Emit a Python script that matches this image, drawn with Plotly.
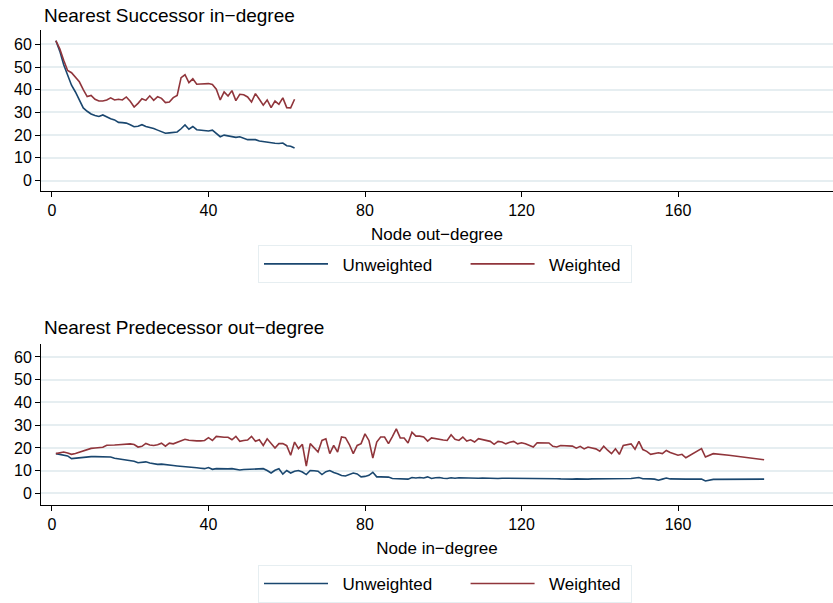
import plotly.graph_objects as go

# ---------------- data ----------------
succ_x = list(range(1, 63))
succ_unweighted = [
    61.6, 57.0, 51.0, 46.0, 42.0, 39.0, 35.5, 32.0, 30.5, 29.3,
    28.6, 28.2, 28.9, 28.0, 27.2, 26.7, 25.6, 25.5, 25.3, 24.6,
    23.7, 23.9, 24.6, 23.8, 23.5, 22.9, 22.2, 21.5, 20.8, 21.0,
    21.2, 21.4, 22.8, 24.5, 22.6, 23.8, 22.4, 22.3, 22.0, 21.8,
    22.2, 20.8, 19.3, 20.0, 19.7, 19.1, 19.0, 19.3, 18.5, 18.0,
    18.1, 18.0, 17.4, 17.1, 16.9, 16.6, 16.4, 16.3, 16.5, 15.3,
    15.1, 14.3]
succ_weighted = [
    61.6, 58.0, 53.0, 48.5, 47.5, 45.5, 43.5, 40.0, 37.0, 37.5,
    35.8, 35.0, 35.0, 35.5, 36.4, 35.5, 35.8, 35.5, 36.8, 34.9,
    32.4, 34.0, 36.0, 35.3, 37.3, 35.3, 36.9, 36.2, 34.3, 34.6,
    36.5, 37.5, 45.3, 46.6, 43.1, 44.8, 42.4, 42.5, 42.6, 42.7,
    42.3, 40.2, 35.5, 39.0, 37.2, 39.6, 35.2, 38.0, 37.8, 36.8,
    34.6, 38.3, 35.8, 33.2, 35.5, 32.1, 35.0, 33.6, 36.4, 32.1,
    32.0, 35.8]

pred_x = list(range(1, 163)) + [166, 167, 169, 173, 182]
pred_unweighted = [
    17.5, 17.2, 16.9, 16.5, 15.3, 15.5, 15.9, 16.0, 16.1, 16.2,
    16.2, 16.1, 16.1, 16.1, 16.0, 15.5, 15.2, 14.8, 14.5, 14.4,
    14.2, 13.5, 13.8, 13.9, 13.4, 13.1, 12.8, 12.9, 12.6, 12.5,
    12.3, 12.1, 12.0, 11.8, 11.6, 11.4, 11.3, 11.1, 10.9, 11.4,
    10.6, 10.9, 10.8, 10.6, 10.8, 10.9, 10.7, 10.3, 10.5, 10.6,
    10.5, 10.7, 10.6, 10.9, 10.1, 9.0, 10.2, 10.9, 8.5, 10.1,
    9.0, 9.8, 10.1, 9.4, 8.3, 10.1, 10.0, 9.8, 8.3, 9.6,
    10.1, 9.2, 8.7, 7.9, 7.7, 8.2, 9.0, 8.6, 7.3, 7.5,
    8.0, 9.3, 7.3, 7.3, 7.3, 7.2, 6.6, 6.5, 6.5, 6.4,
    6.3, 7.0, 6.8, 7.0, 6.8, 7.3, 6.6, 6.9, 7.0, 6.7,
    6.6, 6.9, 6.7, 6.9, 6.8, 6.7, 6.9, 6.7, 6.7, 6.8,
    6.7, 6.8, 6.7, 6.6, 6.7, 6.7, 6.8, 6.7, 6.6, 6.7,
    6.7, 6.6, 6.7, 6.7, 6.6, 6.6, 6.7, 6.6, 6.5, 6.4,
    6.3, 6.3, 6.3, 6.4, 6.3, 6.4, 6.3, 6.4, 6.4, 6.5,
    6.6, 6.5, 6.4, 6.5, 6.6, 6.5, 6.6, 6.6, 6.8, 7.0,
    6.5, 6.6, 6.4, 6.3, 5.8, 6.3, 6.8, 6.4, 6.3, 6.4,
    6.4, 6.3,
    6.3, 5.5, 6.2, 6.3, 6.3]
pred_weighted = [
    17.5, 17.8, 18.2, 17.8, 17.2, 17.6, 18.2, 18.8, 19.5, 19.8,
    20.0, 20.1, 20.3, 21.2, 21.4, 21.3, 21.4, 21.6, 21.8, 21.8,
    21.5, 20.4, 20.7, 22.0, 21.3, 21.1, 21.4, 22.1, 20.8, 22.1,
    21.8, 22.5, 22.9, 23.8, 23.4, 23.1, 23.1, 23.1, 23.3, 24.5,
    23.3, 25.1, 24.8, 24.7, 24.7, 23.6, 25.1, 22.9, 23.3, 23.5,
    25.1, 22.9, 23.6, 21.1, 24.0, 22.0, 20.0, 21.9, 21.9, 21.0,
    16.8, 22.6, 19.7, 21.6, 12.0, 21.9, 20.0, 18.2, 23.3, 24.0,
    17.5, 21.1, 18.2, 24.8, 24.5, 21.5, 17.5, 21.1, 21.9, 26.2,
    23.3, 15.6, 22.6, 24.8, 24.8, 21.9, 25.0, 28.4, 24.4, 24.4,
    22.2, 26.9, 25.2, 25.2, 24.8, 23.0, 24.4, 24.0, 23.8, 23.5,
    23.3, 25.8, 23.8, 23.3, 24.8, 23.0, 23.6, 22.6, 24.1, 23.6,
    23.3, 22.9, 21.6, 22.9, 22.6, 21.8, 22.5, 22.9, 21.8, 22.3,
    21.8, 21.2, 20.4, 22.3, 22.3, 22.3, 22.2, 20.7, 20.4, 21.1,
    21.0, 20.9, 20.8, 19.9, 20.7, 19.6, 20.4, 20.0, 19.6, 18.6,
    20.8, 19.0, 17.5, 19.6, 17.2, 21.1, 21.5, 21.8, 19.4, 22.9,
    19.3, 18.5, 17.2, 17.6, 17.9, 17.5, 18.9, 18.0, 17.3, 16.8,
    17.2, 15.7,
    19.7, 16.0, 17.5, 16.8, 14.8]

series_names = ["Unweighted", "Weighted"]
titles = ["Nearest Successor in\u2212degree", "Nearest Predecessor out\u2212degree"]
x_titles = ["Node out\u2212degree", "Node in\u2212degree"]
x_ticks = [0, 40, 80, 120, 160]
y_ticks = [0, 10, 20, 30, 40, 50, 60]

# ---------------- style ----------------
NAVY = "#1a476f"
MAROON = "#90353b"
GRID = "#e6eef1"
FONT = "Liberation Sans, Arial, Helvetica, sans-serif"
W, H = 833, 603
NB = "\u00a0"

# legend labels padded with non-breaking spaces to mimic the Stata key spacing
legend_labels = [NB * 2 + series_names[0] + NB * 6, NB * 2 + series_names[1] + NB]

fig = go.Figure()

fig.add_trace(go.Scatter(x=succ_x, y=succ_unweighted, mode="lines", name=legend_labels[0],
                         line=dict(color=NAVY, width=1.6), xaxis="x", yaxis="y", legend="legend"))
fig.add_trace(go.Scatter(x=succ_x, y=succ_weighted, mode="lines", name=legend_labels[1],
                         line=dict(color=MAROON, width=1.6), xaxis="x", yaxis="y", legend="legend"))
fig.add_trace(go.Scatter(x=pred_x, y=pred_unweighted, mode="lines", name=legend_labels[0],
                         line=dict(color=NAVY, width=1.6), xaxis="x2", yaxis="y2", legend="legend2"))
fig.add_trace(go.Scatter(x=pred_x, y=pred_weighted, mode="lines", name=legend_labels[1],
                         line=dict(color=MAROON, width=1.6), xaxis="x2", yaxis="y2", legend="legend2"))

xdom = [41 / W, 1.0]
ydom1 = [(H - 192) / H, (H - 30) / H]
ydom2 = [(H - 508) / H, (H - 346) / H]

def xaxis(anchor, title):
    return dict(domain=xdom, anchor=anchor, range=[-2.8, 199.6],
                tickvals=x_ticks, ticks="outside", ticklen=5, tickwidth=1, tickcolor="#000",
                showline=True, linecolor="#000", linewidth=1, showgrid=False, zeroline=False,
                tickfont=dict(family=FONT, size=16, color="#000"),
                title=dict(text=title, font=dict(family=FONT, size=17, color="#000"), standoff=10),
                automargin=False)

def yaxis(anchor, dom, rng):
    return dict(domain=dom, anchor=anchor, range=rng,
                tickvals=y_ticks, ticks="outside", ticklen=5, tickwidth=1, tickcolor="#000",
                showline=True, linecolor="#000", linewidth=1, showgrid=True, gridcolor=GRID,
                gridwidth=1.5, zeroline=False,
                tickfont=dict(family=FONT, size=16, color="#000"), automargin=False)

legend_common = dict(orientation="h", xanchor="left", yanchor="top",
                     bordercolor="#e6eef1", borderwidth=1, bgcolor="#fff",
                     font=dict(family=FONT, size=17, color="#000"),
                     itemwidth=64)

fig.update_layout(
    width=W, height=H, margin=dict(l=0, r=0, t=0, b=0),
    paper_bgcolor="#fff", plot_bgcolor="#fff",
    font=dict(family=FONT, size=16, color="#000"),
    xaxis=xaxis("y", x_titles[0]),
    yaxis=yaxis("x", ydom1, [-4.5, 66.4]),
    xaxis2=xaxis("y2", x_titles[1]),
    yaxis2=yaxis("x2", ydom2, [-4.9, 65.8]),
    legend=dict(x=258 / W, y=(H - 247) / H, **legend_common),
    legend2=dict(x=258 / W, y=(H - 569) / H, **legend_common),
    showlegend=True,
    annotations=[
        dict(text=titles[0], x=42 / W, y=(H - 16) / H, xref="paper", yref="paper",
             xanchor="left", yanchor="middle", showarrow=False,
             font=dict(family=FONT, size=19, color="#000")),
        dict(text=titles[1], x=42 / W, y=(H - 330) / H, xref="paper", yref="paper",
             xanchor="left", yanchor="middle", showarrow=False,
             font=dict(family=FONT, size=19, color="#000")),
    ],
)

fig.write_html("out.html")
